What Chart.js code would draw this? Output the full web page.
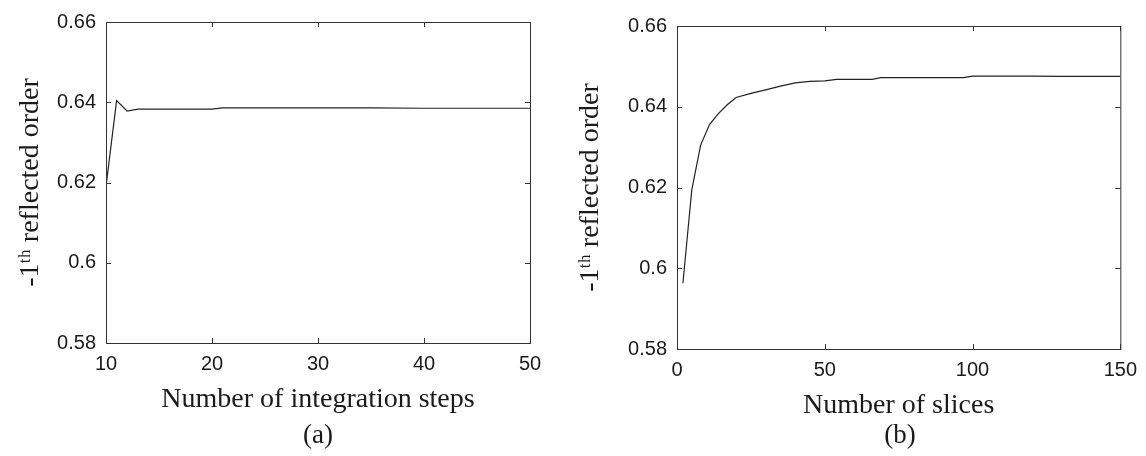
<!DOCTYPE html>
<html lang="en">
  <head>
    <meta charset="UTF-8" />
    <title>-1th reflected order convergence</title>
    <script src="https://cdn.jsdelivr.net/npm/chart.js"></script>
    <style>
      body {
        margin: 0;
        background: #fff;
        width: 1146px;
        height: 456px;
        position: relative;
        overflow: hidden;
      }
      canvas {
        position: absolute;
        top: 0;
      }
      #chartA {
        left: 0;
      }
      #chartB {
        left: 560px;
      }
      .panel-label {
        position: absolute;
        top: 419px;
        font-family: "Liberation Serif", "Times New Roman", serif;
        font-size: 27px;
        color: #1a1a1a;
        transform: translateX(-50%);
      }
    </style>
  </head>
  <body>
    <canvas id="chartA" width="560" height="420"></canvas>
    <canvas id="chartB" width="586" height="424"></canvas>
    <div class="panel-label" style="left: 318px">(a)</div>
    <div class="panel-label" style="left: 900px">(b)</div>

    <script>
      // (a) integration steps
      const stepsX = [10, 11, 12, 13, 15, 20, 21, 25, 30, 35, 40, 45, 50];
      const stepsY = [0.619, 0.6404, 0.6378, 0.6383, 0.6383, 0.6383, 0.6386, 0.6386, 0.6386, 0.6386, 0.6385, 0.6385, 0.6385];

      // (b) slices
      const slicesX = [2, 5, 8, 11, 14, 17, 20, 25, 30, 35, 40, 45, 50, 54, 60, 66, 69, 80, 90, 97, 100, 110, 120, 130, 140, 150];
      const slicesY = [0.5963, 0.6194, 0.6305, 0.6356, 0.6383, 0.6405, 0.6423, 0.6433, 0.6442, 0.6451, 0.6459, 0.6463, 0.6464, 0.6468, 0.6468, 0.6468, 0.6472, 0.6472, 0.6472, 0.6472, 0.6476, 0.6476, 0.6476, 0.6475, 0.6475, 0.6475];

      const yTicks = [0.58, 0.6, 0.62, 0.64, 0.66];
      const yTitle = "-1ᵗʰ reflected order";

      const tickFont = { family: "'Liberation Sans', Arial, sans-serif", size: 20 };
      const xTitleFont = { family: "'Liberation Serif', 'Times New Roman', serif", size: 28 };
      const yTitleFont = { family: "'Liberation Serif', 'Times New Roman', serif", size: 28 };

      // box round the plot with short inward ticks on all four sides
      const boxTicks = {
        id: "boxTicks",
        afterDraw(chart) {
          const { ctx, chartArea: a, scales } = chart;
          ctx.save();
          ctx.strokeStyle = "#333";
          ctx.lineWidth = 1;
          ctx.strokeRect(a.left + 0.5, a.top + 0.5, a.right - a.left, a.bottom - a.top);
          ctx.beginPath();
          scales.x.ticks.forEach((t) => {
            const px = Math.round(scales.x.getPixelForValue(t.value)) + 0.5;
            ctx.moveTo(px, a.bottom);
            ctx.lineTo(px, a.bottom - 5);
            ctx.moveTo(px, a.top);
            ctx.lineTo(px, a.top + 5);
          });
          scales.y.ticks.forEach((t) => {
            const py = Math.round(scales.y.getPixelForValue(t.value)) + 0.5;
            ctx.moveTo(a.left, py);
            ctx.lineTo(a.left + 5, py);
            ctx.moveTo(a.right, py);
            ctx.lineTo(a.right - 5, py);
          });
          ctx.stroke();
          ctx.restore();
        },
      };

      function makeChart(id, xs, ys, opts) {
        return new Chart(document.getElementById(id), {
          type: "scatter",
          data: {
            datasets: [
              {
                data: xs.map((x, i) => ({ x: x, y: ys[i] })),
                showLine: true,
                borderColor: "#222",
                borderWidth: 1.2,
                pointRadius: 0,
                tension: 0,
              },
            ],
          },
          options: {
            responsive: false,
            animation: false,
            devicePixelRatio: 1,
            layout: { padding: opts.padding },
            plugins: { legend: { display: false }, tooltip: { enabled: false } },
            scales: {
              x: {
                type: "linear",
                min: opts.xMin,
                max: opts.xMax,
                afterFit: (s) => {
                  s.height = opts.xHeight;
                },
                ticks: { stepSize: opts.xStep, color: "#1a1a1a", font: tickFont, padding: 9, maxRotation: 0 },
                grid: { display: false, drawTicks: false },
                border: { display: false },
                title: {
                  display: true,
                  text: opts.xTitle,
                  color: "#1a1a1a",
                  font: xTitleFont,
                  padding: { top: 0, bottom: opts.xTitlePad },
                },
              },
              y: {
                min: 0.58,
                max: 0.66,
                afterFit: (s) => {
                  s.width = opts.yWidth;
                },
                afterBuildTicks: (s) => {
                  s.ticks = yTicks.map((v) => ({ value: v }));
                },
                ticks: {
                  color: "#1a1a1a",
                  font: tickFont,
                  padding: 10,
                  callback: (v) => String(+Number(v).toFixed(2)),
                },
                grid: { display: false, drawTicks: false },
                border: { display: false },
                title: {
                  display: true,
                  text: yTitle,
                  color: "#1a1a1a",
                  font: yTitleFont,
                  padding: { top: 14, bottom: 0 },
                },
              },
            },
          },
          plugins: [boxTicks],
        });
      }

      makeChart("chartA", stepsX, stepsY, {
        xMin: 10,
        xMax: 50,
        xStep: 10,
        xTitle: "Number of integration steps",
        padding: { left: 0, top: 22, right: 30, bottom: 0 },
        xHeight: 77,
        yWidth: 106,
        xTitlePad: 4,
      });

      makeChart("chartB", slicesX, slicesY, {
        xMin: 0,
        xMax: 150,
        xStep: 50,
        xTitle: "Number of slices",
        padding: { left: 0, top: 26, right: 23, bottom: 0 },
        xHeight: 75,
        yWidth: 117,
        xTitlePad: 2,
      });
    </script>
  </body>
</html>
